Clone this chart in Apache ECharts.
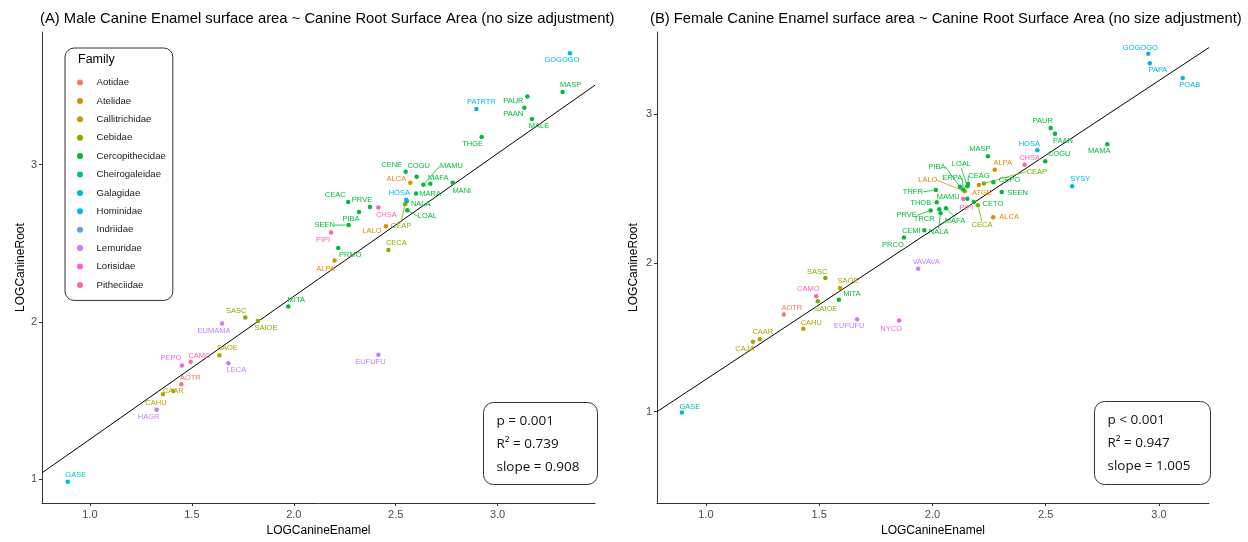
<!DOCTYPE html>
<html><head><meta charset="utf-8">
<script src="https://cdn.jsdelivr.net/npm/echarts@6/dist/echarts.min.js"></script>
<style>html,body{margin:0;padding:0;background:#fff}#c{width:1248px;height:542px}</style>
</head><body><div id="c"></div>
<script>
// ---------------- DATA ----------------
const families = ['Aotidae','Atelidae','Callitrichidae','Cebidae','Cercopithecidae','Cheirogaleidae','Galagidae','Hominidae','Indriidae','Lemuridae','Lorisidae','Pitheciidae'];
const familyColors = ['#F8766D','#DE8C00','#B79F00','#7CAE00','#00BA38','#00C08B','#00BFC4','#00B4F0','#619CFF','#C77CFF','#F564E3','#FF64B0'];

const xTicks = [1.0, 1.5, 2.0, 2.5, 3.0];
const yTicks = [1, 2, 3];

// Panel A (male)
const maleNames  = ['GOGOGO','MASP','PAUR','PAAN','MALE','PATRTR','THGE','CENE','COGU','ALCA','MAMU','MAFA','MARA','MANI','HOSA','NALA','LOAL','CEAP','CHSA','PRVE','CEAC','PIBA','SEEN','LALO','PIPI','PRMO','CECA','ALPA','EUFUFU','MITA','SASC','SAIOE','EUMAMA','SAOE','LECA','CAMO','PEPO','AOTR','CAAR','CAHU','HAGR','GASE'];
const maleX      = [3.355,3.319,3.146,3.131,3.169,2.896,2.922,2.549,2.603,2.572,2.636,2.670,2.600,2.780,2.552,2.554,2.557,2.546,2.415,2.374,2.267,2.320,2.269,2.452,2.183,2.218,2.464,2.200,2.415,1.973,1.762,1.824,1.648,1.635,1.679,1.494,1.451,1.448,1.409,1.358,1.327,0.891];
const maleY      = [3.707,3.460,3.432,3.361,3.289,3.353,3.175,2.954,2.922,2.884,2.871,2.878,2.816,2.884,2.776,2.766,2.709,2.747,2.726,2.730,2.761,2.698,2.615,2.608,2.568,2.470,2.456,2.390,1.791,2.097,2.027,2.006,1.989,1.787,1.736,1.747,1.723,1.603,1.561,1.540,1.441,0.983];
const maleFamily = ['Hominidae','Cercopithecidae','Cercopithecidae','Cercopithecidae','Cercopithecidae','Hominidae','Cercopithecidae','Cercopithecidae','Cercopithecidae','Atelidae','Cercopithecidae','Cercopithecidae','Cercopithecidae','Cercopithecidae','Hominidae','Cercopithecidae','Cercopithecidae','Cebidae','Pitheciidae','Cercopithecidae','Cercopithecidae','Cercopithecidae','Cercopithecidae','Atelidae','Pitheciidae','Cercopithecidae','Cebidae','Atelidae','Lemuridae','Cercopithecidae','Cebidae','Cebidae','Lemuridae','Callitrichidae','Lemuridae','Pitheciidae','Lorisidae','Aotidae','Callitrichidae','Callitrichidae','Lemuridae','Galagidae'];
const maleFit = { slope: 0.908, intercept: 0.346 };
const maleStats = ['p = 0.001', 'R\u00B2 = 0.739', 'slope = 0.908'];

// Panel B (female)
const femaleNames  = ['GOGOGO','PAPA','POAB','PAUR','PAAN','MAMA','HOSA','COGU','CHSA','MASP','ALPA','SYSY','SEEN','CEPO','ATGE','CEAP','CEAG','LOAL','PIBA','ERPA','LALO','PIPI','MAMU','CETO','CECA','ALCA','TRFR','THOB','PRVE','TRCR','NALA','MAFA','CEMI','PRCO','VAVAVA','SASC','SAOE','CAMO','SAIOE','MITA','AOTR','EUFUFU','NYCO','CAHU','CAAR','CAJA','GASE'];
const femaleX      = [2.953,2.960,3.105,2.522,2.541,2.772,2.463,2.498,2.407,2.245,2.275,2.617,2.306,2.269,2.205,2.227,2.157,2.154,2.121,2.136,2.143,2.136,2.154,2.183,2.201,2.268,2.015,2.019,1.992,2.030,2.036,2.060,1.964,1.874,1.937,1.527,1.592,1.487,1.494,1.587,1.344,1.668,1.853,1.430,1.238,1.2075,0.894];
const femaleY      = [3.407,3.343,3.243,2.908,2.869,2.798,2.757,2.684,2.660,2.717,2.626,2.516,2.477,2.543,2.524,2.534,2.530,2.516,2.512,2.494,2.481,2.429,2.432,2.409,2.387,2.307,2.491,2.407,2.353,2.360,2.333,2.367,2.219,2.171,1.960,1.898,1.831,1.775,1.742,1.752,1.652,1.621,1.612,1.556,1.487,1.469,0.993];
const femaleFamily = ['Hominidae','Hominidae','Hominidae','Cercopithecidae','Cercopithecidae','Cercopithecidae','Hominidae','Cercopithecidae','Pitheciidae','Cercopithecidae','Atelidae','Hominidae','Cercopithecidae','Cercopithecidae','Atelidae','Cebidae','Cercopithecidae','Cercopithecidae','Cercopithecidae','Cercopithecidae','Atelidae','Pitheciidae','Cercopithecidae','Cercopithecidae','Cebidae','Atelidae','Cercopithecidae','Cercopithecidae','Cercopithecidae','Cercopithecidae','Cercopithecidae','Cercopithecidae','Cercopithecidae','Cercopithecidae','Lemuridae','Cebidae','Callitrichidae','Pitheciidae','Cebidae','Cercopithecidae','Aotidae','Lemuridae','Lorisidae','Callitrichidae','Callitrichidae','Callitrichidae','Galagidae'];
const femaleFit = { slope: 1.005, intercept: 0.211 };
const femaleStats = ['p < 0.001', 'R\u00B2 = 0.947', 'slope = 1.005'];

// ---------------- LAYOUT (label offsets, px) ----------------
const maleLabelOffset = {GOGOGO:[-8,7],MASP:[8,-7],PAUR:[-14,4],PAAN:[-11,6],MALE:[7,7],PATRTR:[5,-7],THGE:[-9,7],CENE:[-14,-7],COGU:[2,-11],MAMU:[28,-19],ALCA:[-14,-4],MAFA:[8,-6],HOSA:[-7,-7],MARA:[14,0],MANI:[9,8],CEAC:[-13,-7],PRVE:[-8,-7],NALA:[14,3],CHSA:[8,7],LOAL:[20,6],PIBA:[-8,7],SEEN:[-24,0],CEAP:[-4,22],PIPI:[-8,7],LALO:[-14,5],PRMO:[12,7],CECA:[8,-7],ALPA:[-9,8],MITA:[8,-7],SASC:[-9,-7],SAIOE:[8,7],EUMAMA:[-8,7],SAOE:[8,-7],CAMO:[9,-6],PEPO:[-11,-7],LECA:[8,7],AOTR:[9,-6],CAAR:[0,0],CAHU:[-7,9],HAGR:[-8,7],GASE:[8,-7],EUFUFU:[-8,7]};
const maleLeaders = ['MAMU','LOAL','SEEN','CEAP'];
const femaleLabelOffset = {GASE:[8,-6],CAJA:[-8,7],CAAR:[3,-7],CAHU:[8,-6],AOTR:[8,-7],CAMO:[-8,-7],SAIOE:[8,8],SASC:[-8,-6],SAOE:[8,-7],MITA:[13,-6],EUFUFU:[-8,7],NYCO:[-8,8],VAVAVA:[8,-7],GOGOGO:[-8,-6],PAPA:[8,7],POAB:[7,7],PAUR:[-8,-7],PAAN:[8,7],MAMA:[-8,7],HOSA:[-8,-6],COGU:[14,-7],CHSA:[5,-7],MASP:[-8,-7],ALPA:[8,-7],CEAP:[53,-12],SYSY:[8,-7],CEPO:[16,-2],SEEN:[16,1],CEAG:[11,-8],LOAL:[-6,-22],PIBA:[-23,-20],ERPA:[-11,-11],LALO:[-37,-11],ATGE:[3,8],TRFR:[-23,2],MAMU:[-19,-2],THOB:[-16,1],PIPI:[3,9],CETO:[19,2],PRVE:[-24,5],TRCR:[-15,10],MAFA:[9,13],CECA:[4,20],ALCA:[16,0],CEMI:[-13,1],NALA:[-2,19],PRCO:[-11,7]};
const femaleLeaders = ['CEAP','CEAG','LOAL','PIBA','ERPA','LALO','TRFR','PRVE','MAFA','CECA','NALA'];

const FONT = 'Liberation Sans, Arial, sans-serif';

function buildSeries(panel, names, xs, ys, fams, offsets, leaders) {
  return families.map((fam, fi) => {
    const color = familyColors[fi];
    const data = [];
    names.forEach((n, i) => {
      if (fams[i] !== fam) return;
      const item = { name: n, value: [xs[i], ys[i]] };
      if (leaders.indexOf(n) >= 0) item.labelLine = { show: true };
      data.push(item);
    });
    return {
      type: 'scatter', name: fam, xAxisIndex: panel, yAxisIndex: panel,
      symbol: 'circle', symbolSize: 4.5, z: 3,
      itemStyle: { color: color, opacity: 1 },
      label: { show: true, formatter: '{b}', position: 'inside', color: color, fontSize: 7.5, fontFamily: FONT },
      labelLine: { show: false, lineStyle: { color: color, width: 0.8 } },
      labelLayout: function (p) {
        const o = offsets[p.text] || [0, -7];
        return { x: p.rect.x + p.rect.width / 2 + o[0], y: p.rect.y + p.rect.height / 2 + o[1], align: 'center', verticalAlign: 'middle', hideOverlap: false };
      },
      emphasis: { disabled: true },
      data: data
    };
  });
}

function fitSeries(panel, fit, xmin, xmax) {
  return {
    type: 'line', name: 'fit' + panel, xAxisIndex: panel, yAxisIndex: panel,
    showSymbol: false, silent: true, z: 2,
    lineStyle: { color: '#000', width: 1 },
    data: [[xmin, fit.intercept + fit.slope * xmin], [xmax, fit.intercept + fit.slope * xmax]]
  };
}

const axisRange = [
  { xmin: 0.7645, xmax: 3.478, ymin: 0.848, ymax: 3.842 },
  { xmin: 0.784, xmax: 3.221, ymin: 0.384, ymax: 3.553 }
];
const yNameGap = [14, 17];

function xAxisCfg(i) {
  const r = axisRange[i];
  return {
    type: 'value', gridIndex: i, min: r.xmin, max: r.xmax,
    name: 'LOGCanineEnamel', nameLocation: 'middle', nameGap: 21,
    nameTextStyle: { fontSize: 12, color: '#000', fontFamily: FONT },
    axisLine: { show: true, onZero: false, lineStyle: { color: '#333', width: 1 } },
    axisTick: { show: true, length: 3, customValues: xTicks, lineStyle: { color: '#333' } },
    axisLabel: { customValues: xTicks, formatter: v => v.toFixed(1), color: '#4d4d4d', fontSize: 11, margin: 6, fontFamily: FONT },
    splitLine: { show: false }
  };
}
function yAxisCfg(i) {
  const r = axisRange[i];
  return {
    type: 'value', gridIndex: i, min: r.ymin, max: r.ymax,
    name: 'LOGCanineRoot', nameLocation: 'middle', nameGap: yNameGap[i],
    nameTextStyle: { fontSize: 12, color: '#000', fontFamily: FONT },
    axisLine: { show: true, onZero: false, lineStyle: { color: '#333', width: 1 } },
    axisTick: { show: true, length: 3, customValues: yTicks, lineStyle: { color: '#333' } },
    axisLabel: { customValues: yTicks, formatter: v => String(Math.round(v)), color: '#4d4d4d', fontSize: 11, margin: 5, fontFamily: FONT },
    splitLine: { show: false }
  };
}

function statsBox(x, y, w, h, lines) {
  return {
    type: 'group', left: x, top: y,
    children: [
      { type: 'rect', shape: { x: 0, y: 0, width: w, height: h, r: 10 }, style: { fill: '#fff', stroke: '#333', lineWidth: 1 } },
      ...lines.map((t, k) => ({ type: 'text', x: 13, y: 19 + k * 22.8, style: { text: t, fill: '#111', font: '13.5px "Open Sans", sans-serif', textVerticalAlign: 'middle' } }))
    ]
  };
}

const option = {
  backgroundColor: '#fff',
  animation: false,
  textStyle: { fontFamily: FONT },
  title: [
    { text: '(A) Male Canine Enamel surface area ~ Canine Root Surface Area (no size adjustment)', left: 35, top: 6, textStyle: { fontSize: 14.8, fontWeight: 'normal', color: '#000', fontFamily: FONT } },
    { text: '(B) Female Canine Enamel surface area ~ Canine Root Surface Area (no size adjustment)', left: 645, top: 6, textStyle: { fontSize: 14.8, fontWeight: 'normal', color: '#000', fontFamily: FONT } }
  ],
  grid: [
    { left: 42, top: 32, width: 553, height: 473 },
    { left: 657, top: 32, width: 552, height: 473 }
  ],
  xAxis: [xAxisCfg(0), xAxisCfg(1)],
  yAxis: [yAxisCfg(0), yAxisCfg(1)],
  legend: {
    data: families, orient: 'vertical', left: 65, top: 48,
    padding: [28.5, 7, 9.5, 12], itemWidth: 13, itemHeight: 6, itemGap: 6.4,
    icon: 'circle', selectedMode: false,
    textStyle: { fontSize: 9.6, color: '#1a1a1a', lineHeight: 12, padding: [0, 0, 0, 5], fontFamily: FONT },
    borderColor: '#333', borderWidth: 1, borderRadius: 9, backgroundColor: '#fff'
  },
  graphic: [
    { type: 'text', left: 78, top: 53, z: 100, style: { text: 'Family', fill: '#000', font: '12.5px "Liberation Sans", Arial, sans-serif' } },
    statsBox(483, 402, 114, 82, maleStats),
    statsBox(1094, 401, 116, 83, femaleStats)
  ],
  series: [
    fitSeries(0, maleFit, axisRange[0].xmin, axisRange[0].xmax),
    fitSeries(1, femaleFit, axisRange[1].xmin, axisRange[1].xmax),
    ...buildSeries(0, maleNames, maleX, maleY, maleFamily, maleLabelOffset, maleLeaders),
    ...buildSeries(1, femaleNames, femaleX, femaleY, femaleFamily, femaleLabelOffset, femaleLeaders)
  ]
};

const chart = echarts.init(document.getElementById('c'), null, { renderer: 'canvas' });
chart.setOption(option);
</script>
</body></html>
